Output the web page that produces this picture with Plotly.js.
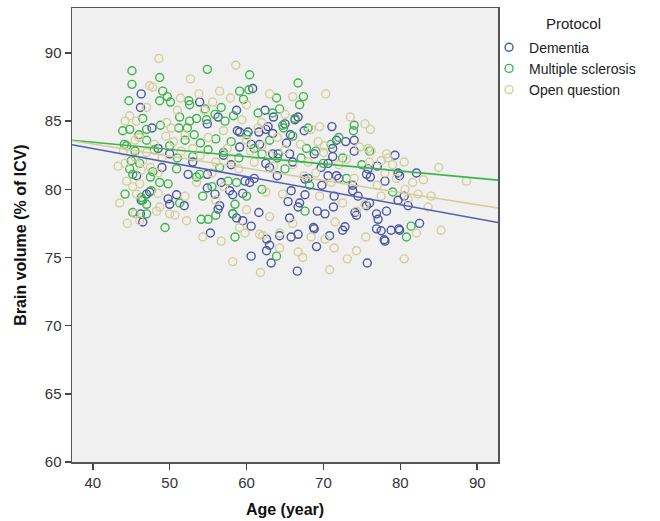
<!DOCTYPE html>
<html>
<head>
<meta charset="utf-8">
<script src="https://cdn.plot.ly/plotly-3.0.1.min.js"></script>
<style>html,body{margin:0;padding:0;background:#fff}#chart{width:660px;height:521px}</style>
</head>
<body>
<div id="chart"></div>
<script>
const protocols = ["Dementia", "Multiple sclerosis", "Open question"];
const colors = ["#4a55a3", "#3db44b", "#d4ce9a"];
const lineColors = ["#5560ad", "#3db54a", "#d2cd98"];

const demAge = [46.3,46.2,53.9,56.3,47.7,54.9,58.7,60.8,62.4,58.8,60.2,62.5,62.8,63.4,66.7,66.3,71.1,67.5,65.7,71.7,74.0,72.9,71.2,71.2,68.8,79.3,65.2,65.6,69.7,70.6,75.8,79.7,82.1,45.7,47.0,49.8,50.0,50.9,51.9,46.2,46.5,52.4,54.9,54.9,55.9,56.5,56.3,57.8,58.2,59.5,58.2,58.7,59.5,60.6,61.6,55.3,60.6,62.6,63.2,63.0,62.6,64.3,65.4,66.9,66.7,65.6,65.8,66.7,66.6,69.1,68.8,70.2,69.2,71.3,71.4,69.8,67.6,67.6,65.8,72.5,72.8,74.3,74.1,74.5,73.8,73.8,75.6,75.6,76.0,76.9,76.9,77.1,77.5,78.0,78.2,78.8,79.9,79.7,82.5,75.7,70.8,79.9,76.1,70.6,71.7,61.6,59.1,61.7,60.6,59.1,64.1,63.4,63.0,62.5,59.8,60.4,56.7,47.4,46.3,53.0,57.0,58.0,61.0,64.0,66.0,68.0,72.0,74.0,77.0,78.0,81.0,50.0,48.5,49.0,68.7,77.9,79.8,80.5,65.0,63.5];
const demVol = [87.0,86.0,86.4,85.3,84.5,84.8,85.8,87.4,85.8,84.3,84.2,84.4,84.6,84.1,85.3,85.1,84.6,84.3,84.0,83.6,83.6,83.5,83.0,82.4,82.6,82.5,83.4,82.6,81.6,81.9,81.5,81.2,81.2,81.0,79.65,79.3,78.9,79.6,78.8,78.2,77.6,81.1,81.1,80.1,79.65,78.8,78.55,79.9,79.6,79.7,78.2,77.9,77.7,77.3,78.3,76.8,75.1,75.5,74.6,75.9,76.35,76.6,79.1,79.0,78.7,77.9,76.5,76.7,74.0,75.8,77.1,78.2,78.4,78.7,79.5,80.3,80.75,79.6,79.9,77.0,77.25,78.1,78.3,79.5,80.3,79.9,81.1,78.8,79.0,78.2,77.1,77.8,76.96,76.2,78.4,77.0,77.0,79.2,77.5,74.6,76.6,81.0,80.9,81.0,81.0,84.2,84.2,83.3,83.3,83.1,82.6,82.6,81.6,81.9,80.6,80.5,80.5,79.8,79.2,82.0,82.5,81.8,80.8,81.0,82.0,80.8,80.8,82.8,81.7,80.6,78.8,82.6,83.0,81.6,77.2,76.3,77.1,79.5,84.8,85.3];

const msAge = [45.1,54.9,60.4,48.7,45.1,49.1,49.7,48.7,50.1,52.5,52.6,44.7,54.6,55.9,56.7,59.1,60.3,59.6,63.9,64.3,63.4,51.3,53.5,54.8,52.6,46.5,43.9,44.8,47.0,48.8,51.2,52.3,64.7,66.7,67.4,66.9,74.0,73.9,72.0,72.5,67.8,67.1,44.2,46.3,47.0,46.5,47.6,51.3,45.2,47.0,49.4,49.8,48.7,53.5,54.3,54.1,56.0,58.5,58.5,63.9,67.6,81.4,80.8,44.1,44.4,45.0,46.1,45.2,53.9,56.5,57.6,58.7,50.9,47.5,55.0,58.2,66.3,64.8,68.2,50.0,51.0,52.0,53.0,54.0,55.0,56.0,57.0,58.0,59.0,60.0,61.0,62.0,63.0,64.0,65.0,66.0,68.0,69.0,70.0,71.0,73.0,75.0,76.0,79.0,62.0,60.0,55.5,48.0,47.0,46.0,45.5,44.8,47.8,57.2,58.3,61.5,53.2];
const msVol = [88.7,88.8,88.4,88.2,87.7,87.2,86.8,86.5,86.4,86.5,86.2,86.5,85.9,85.5,86.0,87.2,87.3,86.6,86.7,85.9,85.6,85.3,85.2,85.1,85.0,85.2,84.3,84.4,84.4,84.7,84.5,84.5,84.7,87.8,86.8,86.2,84.7,84.3,83.8,82.3,83.0,82.3,79.65,79.4,78.9,79.2,79.9,79.0,78.3,78.2,77.2,80.4,80.5,80.9,79.5,77.8,78.1,78.9,76.5,75.1,78.4,77.3,76.5,83.3,83.2,82.1,81.9,81.1,81.1,81.6,80.6,80.5,81.5,80.9,77.8,78.2,85.2,84.5,80.3,83.2,82.3,83.6,82.4,83.4,82.9,83.7,82.7,83.5,82.3,84.0,83.0,82.6,83.6,82.3,81.5,83.9,84.5,82.8,81.9,83.3,80.8,81.8,82.8,79.8,80.0,79.5,80.2,82.9,83.6,84.0,82.8,81.5,81.3,85.0,85.4,85.6,84.0];

const oqAge = [48.6,58.6,52.7,47.4,47.8,51.4,53.8,55.6,57.9,44.8,45.7,44.2,49.6,50.2,59.4,62.0,65.0,70.3,75.4,76.1,68.4,69.5,69.3,70.1,74.7,75.8,76.2,78.2,78.4,77.5,79.0,48.5,44.5,48.3,50.0,44.4,46.1,45.2,54.3,56.7,59.1,59.8,58.2,61.8,62.1,64.3,64.3,64.7,88.6,85.3,80.5,74.3,73.1,70.8,71.4,67.3,66.7,70.2,68.4,71.5,74.3,75.4,82.1,81.6,80.6,83.6,82.3,45.5,45.7,44.2,45.5,46.3,46.1,48.7,50.7,52.2,61.7,50.5,51.5,52.0,53.0,54.0,55.0,56.0,57.0,57.5,58.0,59.0,60.0,60.5,61.0,61.5,62.0,63.0,63.5,64.0,65.0,66.0,67.0,68.0,69.0,70.0,71.0,72.0,73.0,74.0,76.0,77.0,78.0,79.5,80.5,81.0,83.0,84.0,46.0,47.0,48.0,49.0,47.5,48.5,49.5,46.5,45.5,44.0,43.3,53.5,55.5,57.0,52.0,56.0,60.0,63.0,62.5,66.0,69.5,72.5,77.5,54.5,56.5,60.0,63.0,66.0,51.0,47.0,67.5,73.5,75.5,43.5,85.0];
const oqVol = [89.6,89.1,88.1,87.6,87.5,86.7,87.0,86.4,86.7,85.4,85.0,85.0,84.9,84.5,85.1,84.9,85.5,87.0,84.8,84.4,84.4,84.6,83.5,83.2,83.1,83.0,82.8,82.6,82.3,82.1,81.8,79.7,77.5,78.4,78.2,80.6,80.4,80.2,76.5,76.2,77.2,76.8,74.7,73.9,76.6,76.8,75.7,79.65,80.6,77.0,74.9,75.5,74.9,74.1,75.7,75.0,75.4,76.35,76.5,77.6,78.4,78.9,76.8,80.5,80.0,78.7,79.65,78.2,79.65,81.9,82.35,81.4,77.7,78.7,78.1,77.7,76.7,83.5,82.8,84.0,83.0,82.5,83.8,82.0,84.3,83.0,82.2,81.5,83.6,82.8,82.0,84.5,83.2,82.5,81.7,83.8,82.9,81.8,83.3,82.0,81.2,82.7,80.5,81.8,82.2,80.8,82.0,80.3,81.2,80.8,82.0,79.3,80.7,79.5,83.8,82.7,83.3,82.3,81.6,81.2,83.9,82.1,83.6,82.8,81.7,80.5,81.2,80.2,79.5,79.2,78.5,78.0,79.8,77.5,79.5,79.0,79.5,85.8,87.2,86.2,87.0,86.8,85.8,86.0,81.0,85.3,76.5,79.0,81.6];

// Linear fit lines (volume = intercept + slope * age)
const fitIntercept = [87.10, 85.56, 86.89];
const fitSlope = [-0.1028, -0.0527, -0.0891];
const ageRange = [37.3, 92.7];
const volRange = [60, 93.3];
const xTicks = [40, 50, 60, 70, 80, 90];
const yTicks = [60, 65, 70, 75, 80, 85, 90];

const ages = [demAge, msAge, oqAge];
const vols = [demVol, msVol, oqVol];

const traces = [];
for (let i = 0; i < 3; i++) {
  traces.push({
    type: "scatter", mode: "markers", name: protocols[i],
    x: ages[i], y: vols[i], legendgroup: protocols[i],
    marker: {symbol: "circle-open", size: 8, color: colors[i], line: {width: 1.4, color: colors[i]}},
    hoverinfo: "x+y"
  });
}
for (let i = 0; i < 3; i++) {
  traces.push({
    type: "scatter", mode: "lines", name: protocols[i] + " fit", showlegend: false,
    legendgroup: protocols[i],
    x: ageRange, y: ageRange.map(a => fitIntercept[i] + fitSlope[i] * a),
    line: {color: lineColors[i], width: 1.6}
  });
}

const font = "Arial, 'Liberation Sans', sans-serif";
const layout = {
  width: 660, height: 521,
  margin: {l: 72, r: 162, t: 8, b: 59},
  paper_bgcolor: "#ffffff", plot_bgcolor: "#f0f0f0",
  showlegend: true,
  font: {family: font, size: 15, color: "#333"},
  xaxis: {
    range: ageRange, tickvals: xTicks, ticktext: xTicks.map(String),
    ticks: "outside", ticklen: 6, tickwidth: 1.5, tickcolor: "#444",
    showline: true, linecolor: "#555", linewidth: 1.5, mirror: true,
    showgrid: false, zeroline: false,
    tickfont: {family: font, size: 15, color: "#333"},
    title: {text: "Age (year)", font: {family: font, size: 16, color: "#111", weight: "bold"}, standoff: 14}
  },
  yaxis: {
    range: volRange, tickvals: yTicks, ticktext: yTicks.map(String),
    ticks: "outside", ticklen: 6, tickwidth: 1.5, tickcolor: "#444",
    showline: true, linecolor: "#555", linewidth: 1.5, mirror: true,
    showgrid: false, zeroline: false,
    tickfont: {family: font, size: 15, color: "#333"},
    title: {text: "Brain volume (% of ICV)", font: {family: font, size: 16, color: "#111", weight: "bold"}, standoff: 14}
  },
  legend: {
    x: 0.979, xanchor: "left", y: 0.948, yanchor: "top",
    bgcolor: "rgba(0,0,0,0)", font: {family: font, size: 14, color: "#222"},
    tracegroupgap: 0, itemclick: false
  },
  annotations: [{
    text: "Protocol", xref: "paper", yref: "paper", x: 1.178, y: 0.965,
    xanchor: "center", yanchor: "middle", showarrow: false,
    font: {family: font, size: 15, color: "#222"}
  }]
};

Plotly.newPlot("chart", traces, layout, {displayModeBar: false, staticPlot: true});
</script>
</body>
</html>
